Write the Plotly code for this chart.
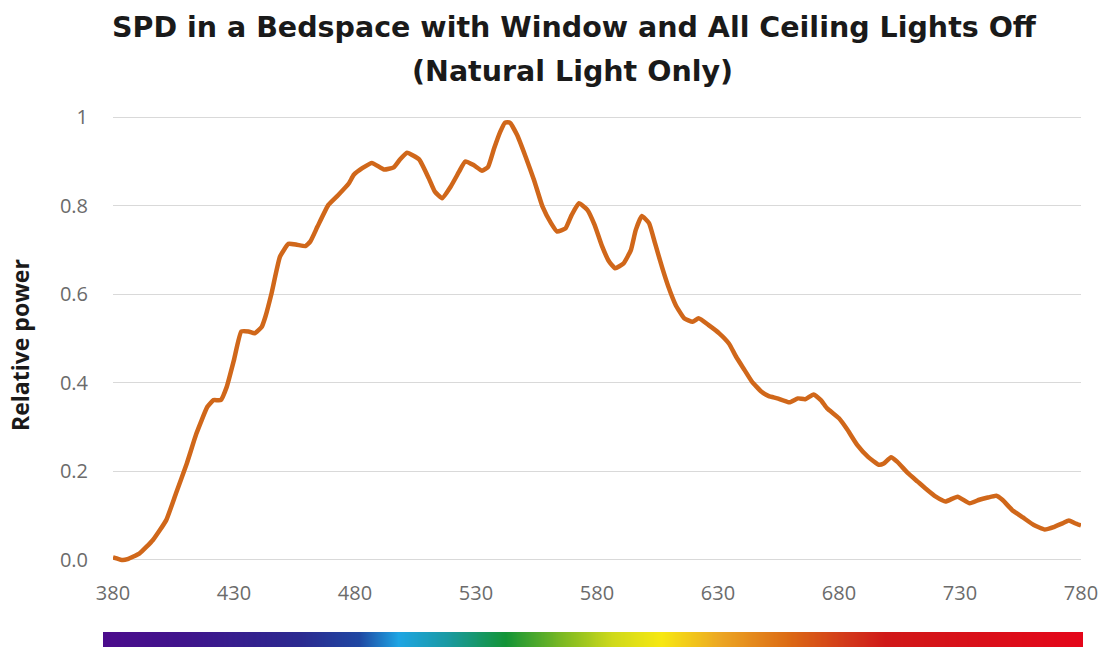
import plotly.graph_objects as go

# Wavelength (nm) and relative power
wavelength = [380, 384, 386, 391, 396.5, 402, 406, 410.5, 414.5, 419, 421.5, 424.5, 427, 430,
              433, 436, 438.5, 441.5, 443, 445.5, 449, 452.5, 456, 459.5, 461.5, 464.5, 469,
              473, 477.5, 479.5, 483, 487, 492, 496, 498.5, 501.5, 506.5, 510.5, 513, 516,
              519.5, 523, 525.5, 529, 532.5, 535, 537.5, 540, 542, 544, 547, 550.5, 554,
              557.5, 561, 563.5, 567, 569.5, 572.5, 576, 579, 582, 585, 587.5, 591, 594, 596,
              598.5, 601.5, 604, 607, 609.5, 612.5, 616, 619.5, 622, 626, 630.5, 634.5, 637.5,
              640.5, 644, 648, 651, 654.5, 659.5, 663, 666, 669.5, 672.5, 675, 680, 683.5,
              687.5, 692, 696.5, 698.5, 701.5, 704, 708.5, 712.5, 716.5, 720, 724, 729, 734,
              738, 741.5, 745, 747.5, 751.5, 756, 760.5, 765, 769, 772.5, 775, 777.5, 780]
relative_power = [0.006, 0.0, 0.002, 0.015, 0.045, 0.09, 0.15, 0.218, 0.286, 0.346, 0.361, 0.361,
                  0.391, 0.452, 0.516, 0.516, 0.512, 0.527, 0.55, 0.602, 0.685, 0.714, 0.712,
                  0.709, 0.719, 0.753, 0.802, 0.824, 0.851, 0.870, 0.885, 0.897, 0.882, 0.887,
                  0.904, 0.920, 0.905, 0.862, 0.832, 0.817, 0.843, 0.877, 0.900, 0.892, 0.879,
                  0.888, 0.930, 0.967, 0.988, 0.988, 0.960, 0.911, 0.858, 0.798, 0.761, 0.742,
                  0.749, 0.779, 0.806, 0.791, 0.757, 0.710, 0.674, 0.659, 0.670, 0.700, 0.745,
                  0.777, 0.761, 0.715, 0.659, 0.617, 0.576, 0.546, 0.538, 0.546, 0.531, 0.512,
                  0.489, 0.459, 0.433, 0.403, 0.380, 0.370, 0.365, 0.356, 0.365, 0.363, 0.374,
                  0.361, 0.343, 0.320, 0.294, 0.260, 0.233, 0.215, 0.218, 0.232, 0.222, 0.196,
                  0.177, 0.158, 0.143, 0.132, 0.143, 0.128, 0.136, 0.141, 0.145, 0.136, 0.113,
                  0.096, 0.079, 0.069, 0.075, 0.083, 0.089, 0.083, 0.078]

x_ticks = [380, 430, 480, 530, 580, 630, 680, 730, 780]
y_ticks = [0, 0.2, 0.4, 0.6, 0.8, 1]
y_tick_labels = ["0.0", "0.2", "0.4", "0.6", "0.8", "1"]

title_line1 = "SPD in a Bedspace with Window and All Ceiling Lights Off"
title_line2 = "(Natural Light Only)"
y_title = "Relative power"

# decorative visible-spectrum colour bar
spectrum_steps = list(range(201))
spectrum_colors = [[0.0, "#4b0c8c"], [0.08, "#40148c"], [0.2, "#2b2a90"], [0.26, "#1f47a2"],
                   [0.30, "#1ea5e4"], [0.35, "#1a9aa3"], [0.41, "#139436"], [0.47, "#7fba22"],
                   [0.52, "#cfd91a"], [0.57, "#f7e812"], [0.63, "#eca623"], [0.70, "#dc6a14"],
                   [0.76, "#d2381a"], [0.80, "#d01818"], [1.0, "#e4061a"]]

fig = go.Figure()
fig.add_trace(go.Scatter(x=wavelength, y=relative_power, mode="lines",
                         line=dict(color="#d0671a", width=4.5, shape="spline", smoothing=0.4),
                         hoverinfo="skip", showlegend=False))
fig.add_trace(go.Heatmap(z=[spectrum_steps], colorscale=spectrum_colors, showscale=False,
                         zsmooth="best", xaxis="x2", yaxis="y2", hoverinfo="skip"))

W, H = 1103, 647
L, R = 103, 20
PW = W - L - R

def px_x(p):
    return (p - L) / PW

def px_y(p):
    return (H - p) / H

fig.update_layout(
    width=W, height=H, autosize=False,
    margin=dict(l=L, r=R, t=0, b=0, pad=0),
    paper_bgcolor="white", plot_bgcolor="white",
    font=dict(family="Open Sans", color="#666666"),
    xaxis=dict(domain=[px_x(113), px_x(1081)], range=[380, 780], tickvals=x_ticks,
               showgrid=False, zeroline=False, showline=False, ticks="", automargin=False,
               tickfont=dict(size=20, color="#6b6b6b"), ticklabelstandoff=12),
    yaxis=dict(domain=[px_y(566.6), px_y(104)], range=[-0.015, 1.03], tickvals=y_ticks,
               ticktext=y_tick_labels, showgrid=True, gridcolor="#d9d9d9", gridwidth=1,
               zeroline=False, showline=False, ticks="", automargin=False,
               tickfont=dict(size=20, color="#6b6b6b"), ticklabelstandoff=24),
    xaxis2=dict(domain=[0, 1], anchor="y2", range=[-0.5, 200.5], visible=False,
                automargin=False),
    yaxis2=dict(domain=[0, px_y(632)], anchor="x2", range=[-0.5, 0.5], visible=False,
                automargin=False),
    annotations=[
        dict(text="<b>" + title_line1 + "</b>", xref="paper", yref="paper",
             x=px_x(574), y=px_y(27), xanchor="center", yanchor="middle", showarrow=False,
             font=dict(family="DejaVu Sans", size=28.5, color="#1a1a1a")),
        dict(text="<b>" + title_line2 + "</b>", xref="paper", yref="paper",
             x=px_x(572), y=px_y(72), xanchor="center", yanchor="middle", showarrow=False,
             font=dict(family="DejaVu Sans", size=28.5, color="#1a1a1a")),
        dict(text="<b>" + y_title + "</b>", xref="paper", yref="paper",
             x=px_x(20), y=px_y(345), xanchor="center", yanchor="middle", showarrow=False,
             textangle=-90, font=dict(family="Open Sans", size=23, color="#1a1a1a")),
    ],
)

fig.write_html("out.html")
